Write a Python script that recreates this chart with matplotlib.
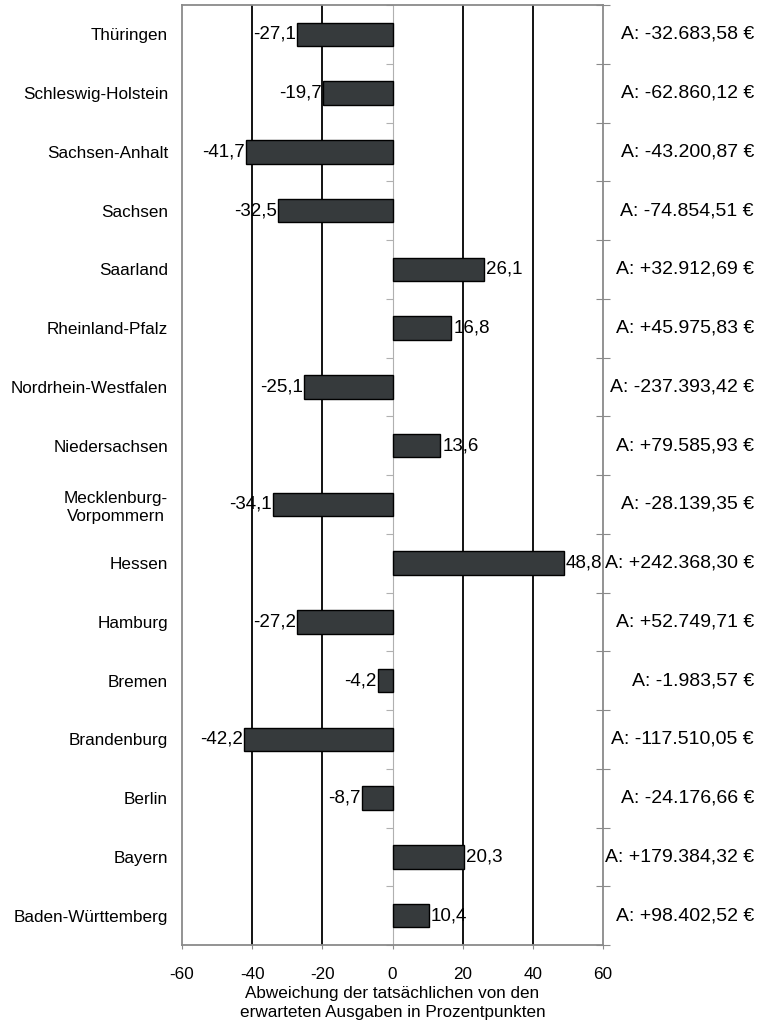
import matplotlib

matplotlib.use("Agg")
import matplotlib.pyplot as plt
import matplotlib.transforms as mtransforms
from matplotlib.markers import TICKLEFT
import numpy as np

plt.rcParams["font.family"] = ["Liberation Sans", "DejaVu Sans"]

# Bundesländer, top to bottom as drawn
LAENDER = [
    "Thüringen", "Schleswig-Holstein", "Sachsen-Anhalt", "Sachsen", "Saarland",
    "Rheinland-Pfalz", "Nordrhein-Westfalen", "Niedersachsen",
    "Mecklenburg-\nVorpommern", "Hessen", "Hamburg", "Bremen", "Brandenburg",
    "Berlin", "Bayern", "Baden-Württemberg",
]
# deviation of actual from expected spending, percentage points
ABWEICHUNG = [-27.1, -19.7, -41.7, -32.5, 26.1, 16.8, -25.1, 13.6,
              -34.1, 48.8, -27.2, -4.2, -42.2, -8.7, 20.3, 10.4]
# absolute deviation in euro
ABSOLUT = ["-32.683,58", "-62.860,12", "-43.200,87", "-74.854,51", "+32.912,69",
           "+45.975,83", "-237.393,42", "+79.585,93", "-28.139,35", "+242.368,30",
           "+52.749,71", "-1.983,57", "-117.510,05", "-24.176,66", "+179.384,32",
           "+98.402,52"]
X_TICKS = [-60, -40, -20, 0, 20, 40, 60]

BAR = "#363a3c"
FRAME = "#8a8a8a"
ZERO = "#b0b0b0"
FS = 12.3       # category labels, ticks, axis title
FS_VAL = 13.5   # bar value labels
FS_ABS = 14     # euro amounts at the right


def de_num(v: float) -> str:
    return f"{v:.1f}".replace(".", ",")


fig = plt.figure(figsize=(7.6, 10.26), dpi=100, facecolor="white")
ax = fig.add_axes([182 / 760, 81 / 1026, 421 / 760, 940 / 1026])

n = len(LAENDER)
y = np.arange(n)[::-1]
bounds = np.arange(n + 1) - 0.5

for xv in (-40, -20, 20, 40):
    ax.axvline(xv, color="black", linewidth=1.3, zorder=1)
ax.axvline(0, color=ZERO, linewidth=0.8, zorder=1)
# category ticks along the zero axis
ax.plot(np.zeros(n + 1), bounds, linestyle="none", marker=TICKLEFT,
        markersize=5, markeredgewidth=0.8, color=ZERO, zorder=1, clip_on=False)

ax.barh(y, ABWEICHUNG, height=0.4, color=BAR, edgecolor="black",
        linewidth=1.0, zorder=3)

for yi, v in zip(y, ABWEICHUNG):
    if v < 0:
        ax.annotate(de_num(v), (v, yi), xytext=(-1, 0), textcoords="offset points",
                    ha="right", va="center", fontsize=FS_VAL, zorder=4)
    else:
        ax.annotate(de_num(v), (v, yi), xytext=(1.5, 0), textcoords="offset points",
                    ha="left", va="center", fontsize=FS_VAL, zorder=4)

ax.set_xlim(-60, 60)
ax.set_ylim(-0.5, n - 0.5)
ax.set_xticks(X_TICKS)
ax.set_xticklabels([str(t) for t in X_TICKS], fontsize=FS)
ax.tick_params(axis="x", length=3, color=FRAME, pad=12.5)

ax.set_yticks(y)
ax.set_yticklabels(LAENDER, fontsize=FS, multialignment="center", linespacing=1.3)
ax.tick_params(axis="y", which="major", length=0, pad=10)
ax.set_yticks(bounds, minor=True)
ax.tick_params(axis="y", which="minor", left=False, right=True,
               direction="inout", length=10, color=FRAME, width=0.8)

for s in ax.spines.values():
    s.set_color(FRAME)
    s.set_linewidth(1.3)

ax.set_xlabel("Abweichung der tatsächlichen von den\nerwarteten Ausgaben in Prozentpunkten",
              fontsize=FS, labelpad=3, linespacing=1.4)

trans = mtransforms.blended_transform_factory(fig.transFigure, ax.transData)
for yi, a in zip(y, ABSOLUT):
    ax.text(754 / 760, yi, f"A: {a} €", transform=trans, ha="right", va="center",
            fontsize=FS_ABS, clip_on=False)

fig.savefig("out.png", dpi=100, facecolor="white")
